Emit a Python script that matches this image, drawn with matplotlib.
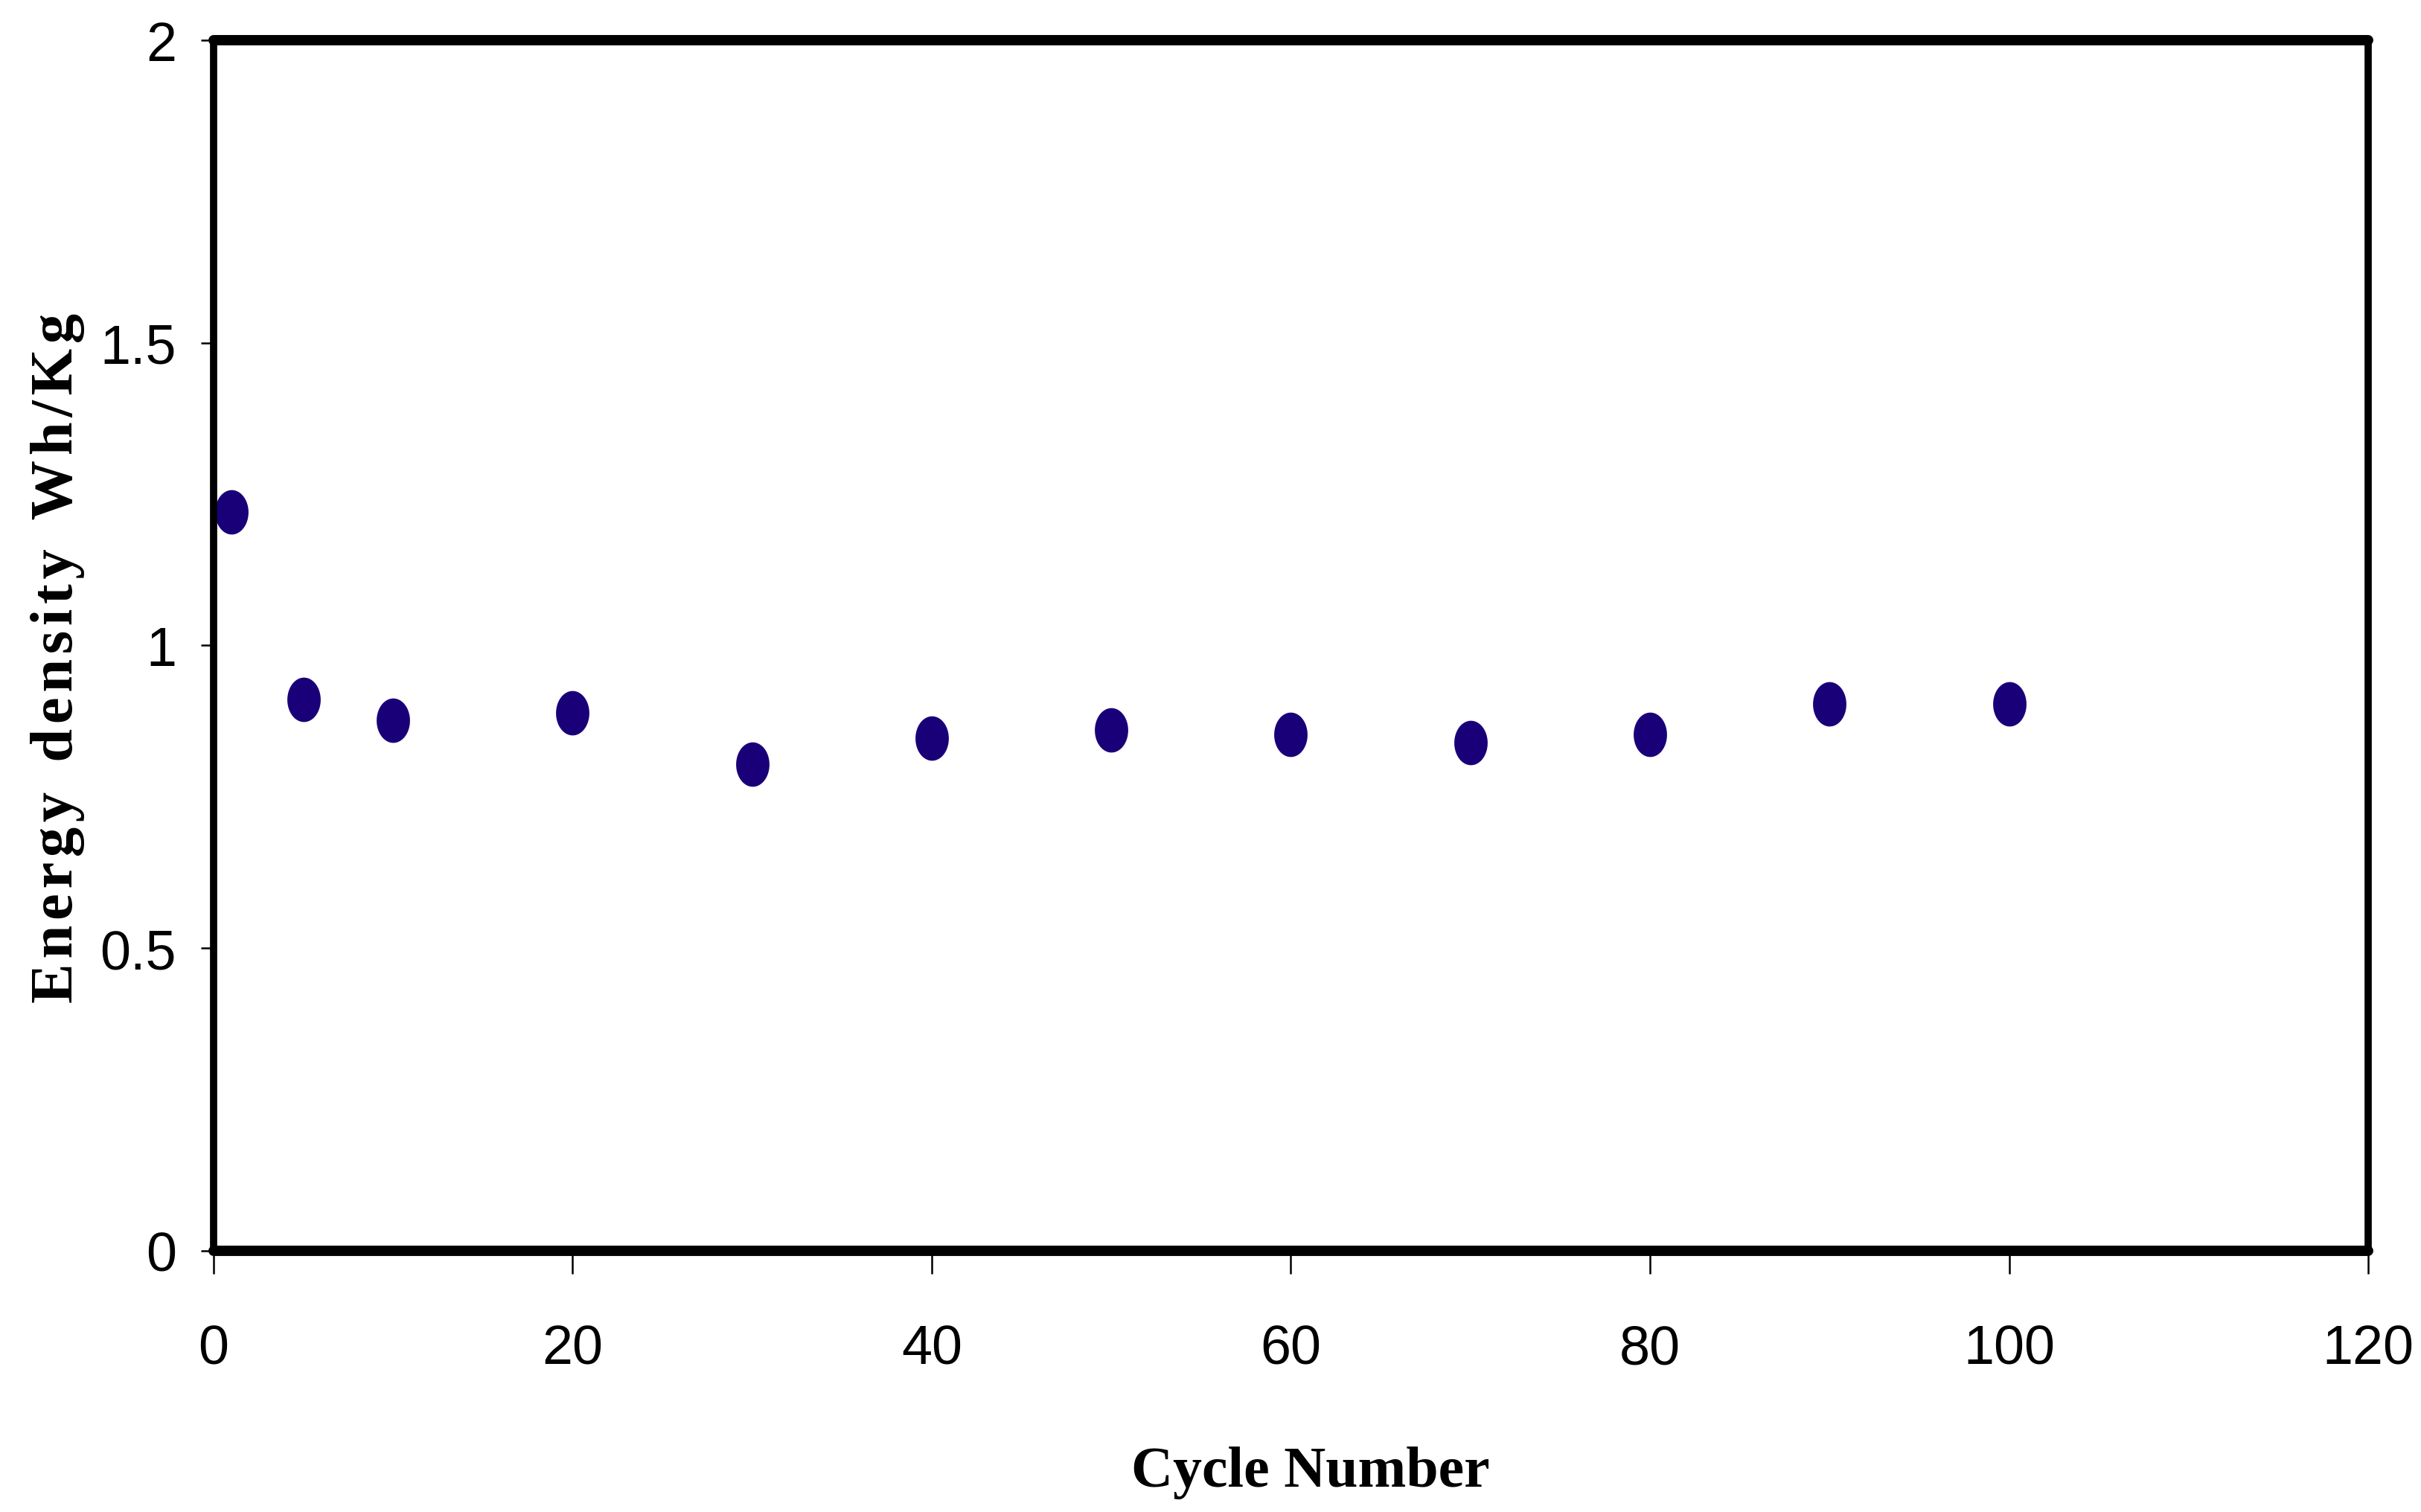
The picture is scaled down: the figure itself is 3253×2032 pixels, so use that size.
import matplotlib
matplotlib.use("Agg")
import matplotlib.pyplot as plt
import numpy as np
from matplotlib.path import Path

# Data
cycles = [1, 5, 10, 20, 30, 40, 50, 60, 70, 80, 90, 100]
energy_density = [1.221, 0.911, 0.876, 0.889, 0.804, 0.847, 0.861, 0.853, 0.839, 0.853, 0.903, 0.903]
x_ticks = [0, 20, 40, 60, 80, 100, 120]
y_ticks = [0, 0.5, 1, 1.5, 2]
y_tick_labels = ["0", "0.5", "1", "1.5", "2"]
x_label = "Cycle Number"
y_label = "Energy density Wh/Kg"

tick_family = ["Liberation Sans", "DejaVu Sans"]
label_family = ["Liberation Serif", "DejaVu Serif"]

fig = plt.figure(figsize=(32.53, 20.33), dpi=100)
ax = fig.add_axes([0.0882, 0.1727, 0.9782 - 0.0882, 0.9729 - 0.1727])

# Elliptical marker (taller than wide)
t = np.linspace(0, 2 * np.pi, 100)
ell = Path(np.column_stack([0.75 * np.cos(t), np.sin(t)]), closed=True)

ax.plot(cycles, energy_density, linestyle="none", marker=ell, markersize=43,
        color="#1a0078", markeredgewidth=0)

ax.set_xlim(0, 120)
ax.set_ylim(0, 2)
ax.set_xticks(x_ticks)
ax.set_xticklabels([str(v) for v in x_ticks])
ax.set_yticks(y_ticks)
ax.set_yticklabels(y_tick_labels)

for s in ["left", "right"]:
    ax.spines[s].set_linewidth(7)
for s in ["top", "bottom"]:
    ax.spines[s].set_linewidth(10)
for s in ax.spines.values():
    s.set_color("black")
    s.set_capstyle("round")

ax.tick_params(axis="x", direction="out", length=22, width=1.8, pad=48,
               labelsize=53, top=False)
ax.tick_params(axis="y", direction="out", length=12, width=1.8, pad=24,
               labelsize=53, right=False)
for lab in ax.get_xticklabels() + ax.get_yticklabels():
    lab.set_family(tick_family)

# Letter-spaced y label
hair = "\u200a"
spaced = "  ".join(hair.join(list(w)) for w in y_label.split(" "))
ax.set_ylabel(spaced, family=label_family, fontweight="bold", fontsize=58)
ax.yaxis.set_label_coords(-0.0598, 0.490)

ax.set_xlabel(x_label, family=label_family, fontweight="bold", fontsize=56)
ax.xaxis.label.set_va("baseline")
ax.xaxis.set_label_coords(0.509, -0.194)

fig.savefig("out.png", dpi=100, facecolor="white")
